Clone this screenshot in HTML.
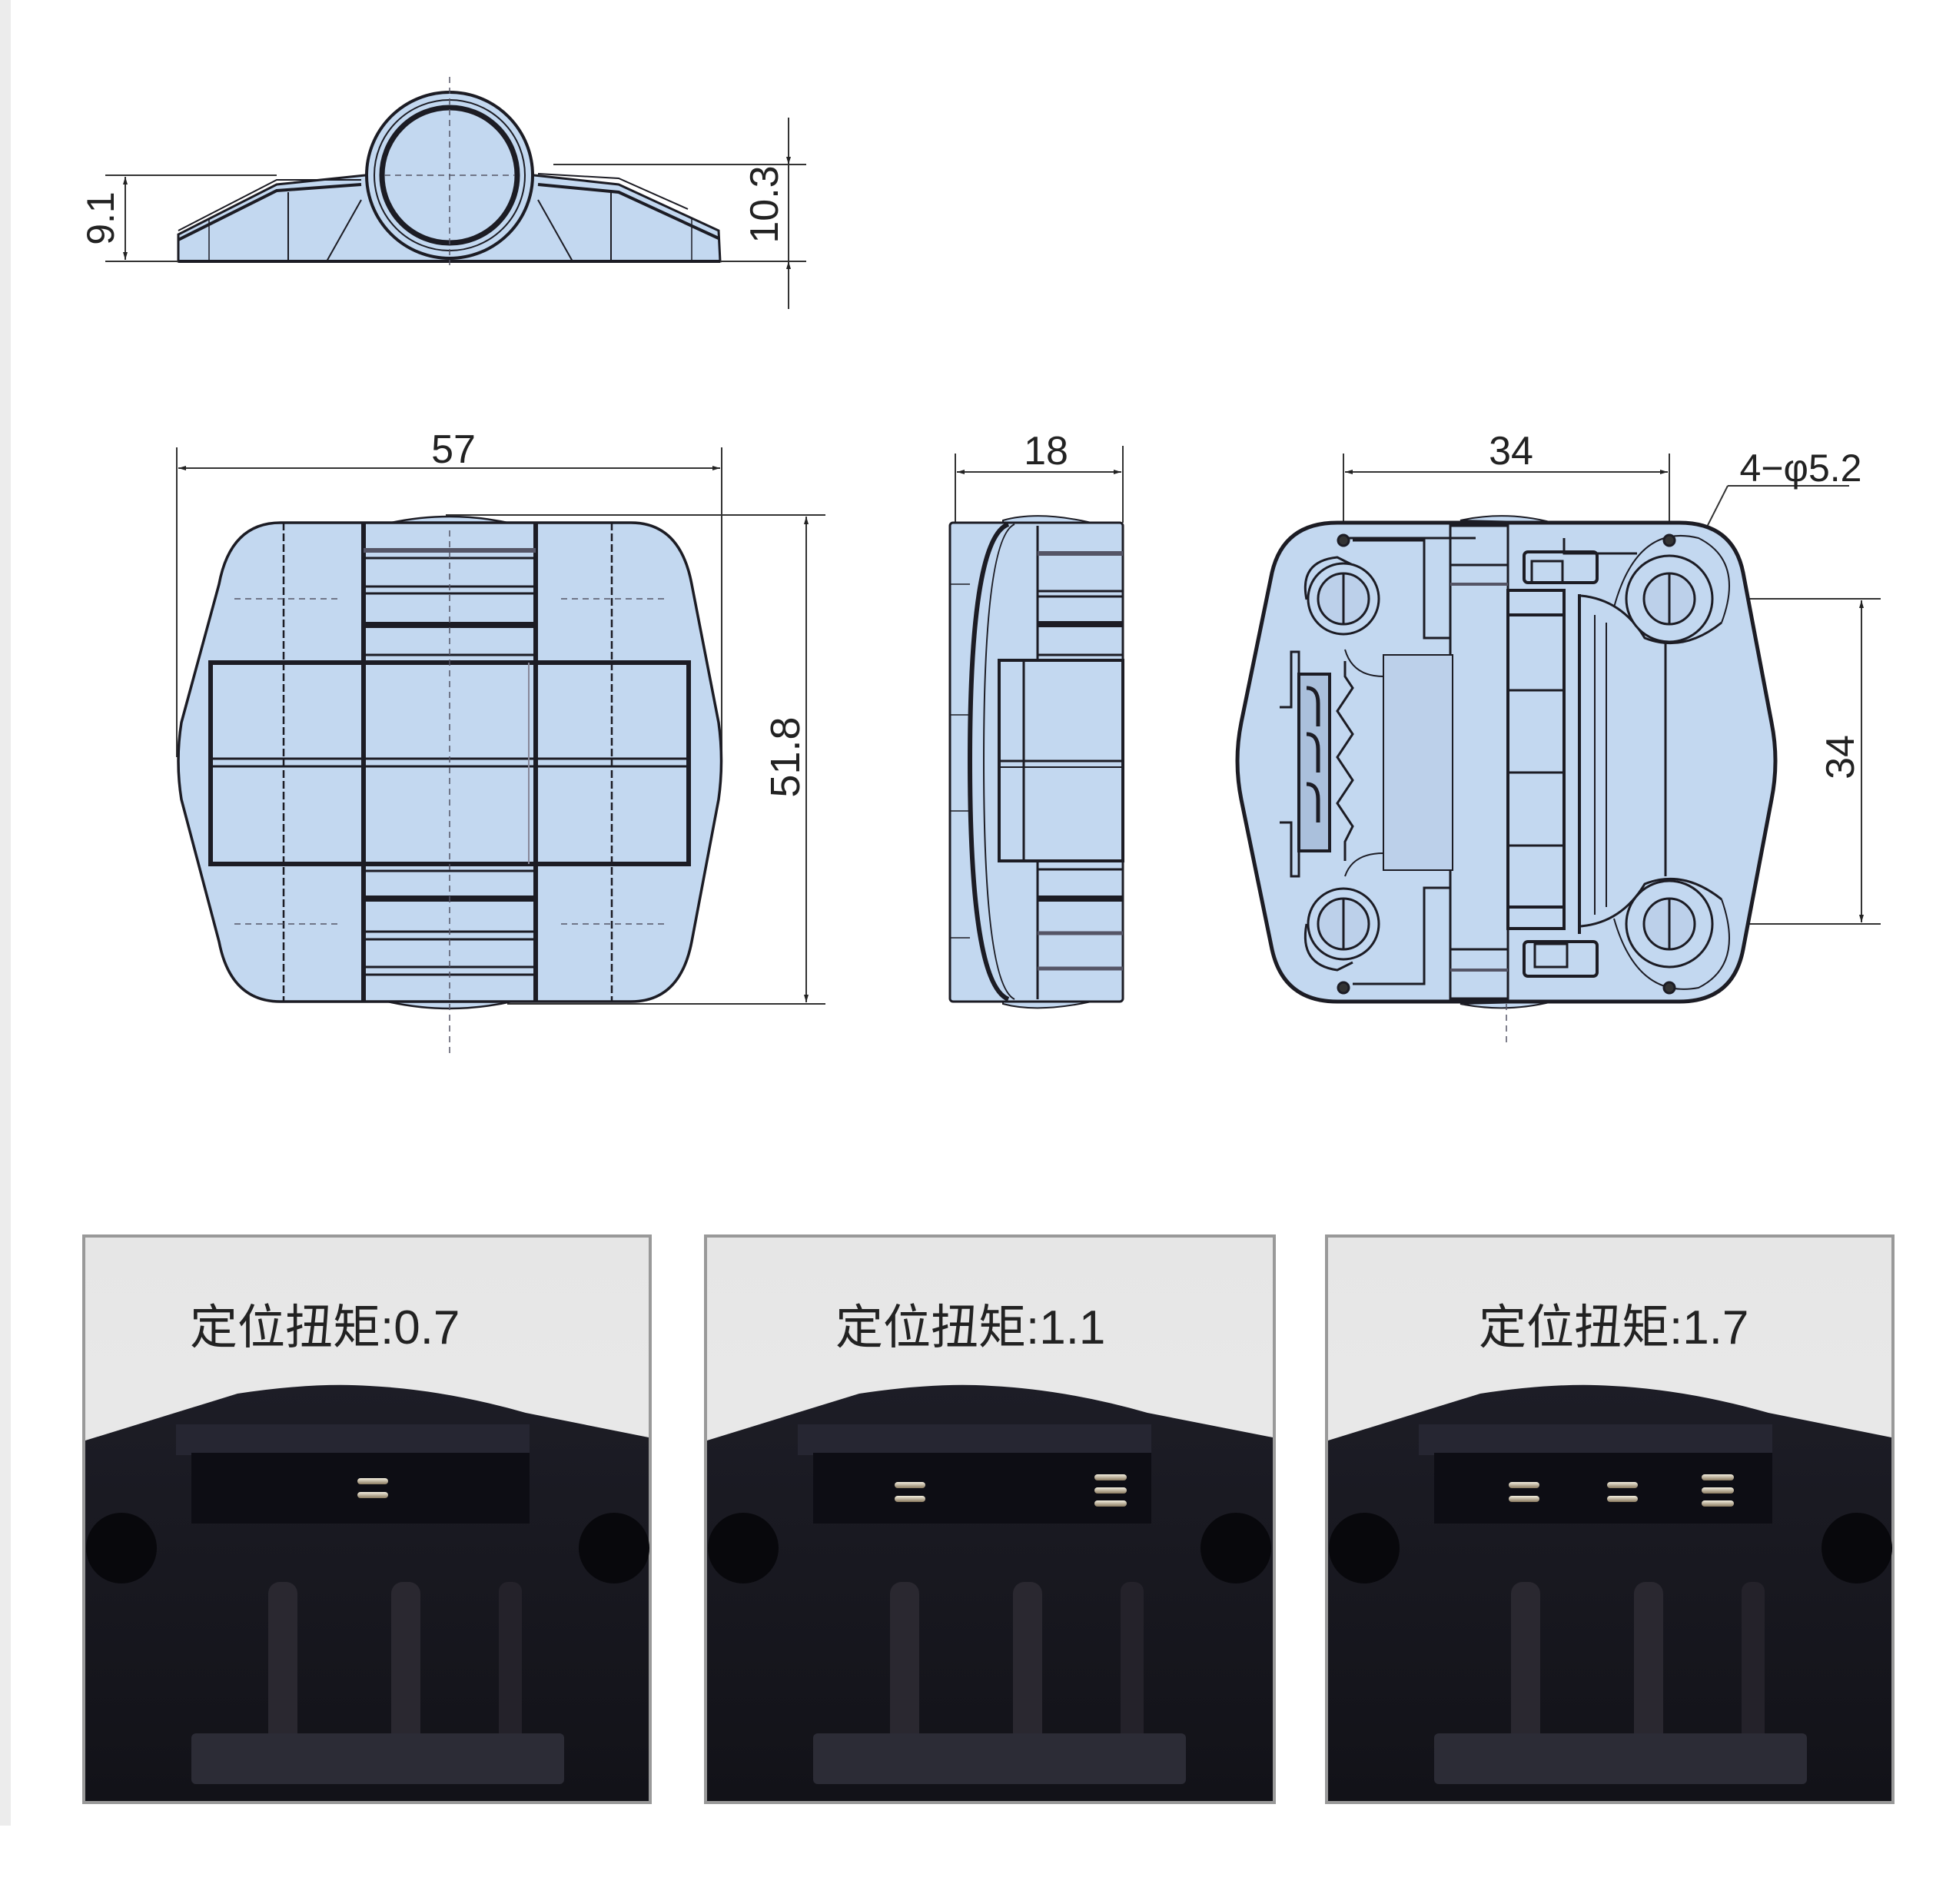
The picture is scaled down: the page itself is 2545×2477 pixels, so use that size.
<!DOCTYPE html>
<html><head><meta charset="utf-8"><style>
html,body{margin:0;padding:0;background:#fff;}
svg{display:block;}
text{font-family:"Liberation Sans","Noto Sans CJK SC",sans-serif;}
</style></head><body>
<svg width="2545" height="2477" viewBox="0 0 2545 2477" xmlns="http://www.w3.org/2000/svg">
<defs>
<marker id="ar" viewBox="0 0 10 10" refX="10" refY="5" markerWidth="14" markerHeight="10" markerUnits="userSpaceOnUse" orient="auto-start-reverse"><path d="M0,2 L10,5 L0,8 Z" fill="#222"/></marker>
<linearGradient id="bg" x1="0" y1="0" x2="0" y2="1"><stop offset="0" stop-color="#e6e6e6"/><stop offset="1" stop-color="#ededed"/></linearGradient>
<linearGradient id="dk" x1="0" y1="0" x2="0" y2="1"><stop offset="0" stop-color="#1d1d26"/><stop offset="1" stop-color="#121218"/></linearGradient>
<linearGradient id="sp" x1="0" y1="0" x2="0" y2="1"><stop offset="0" stop-color="#f4efe0"/><stop offset="1" stop-color="#8a7a60"/></linearGradient>
</defs>
<rect x="0" y="0" width="2545" height="2477" fill="#fff"/>
<rect x="0" y="0" width="14" height="2375" fill="#ececec"/>

<!-- ============ TOP VIEW ============ -->
<g stroke="#1c1c24" fill="#c3d8f0" stroke-width="3">
  <path d="M232,340 L232,305 L360,240 L475,228 L695,228 L805,240 L935,300 L937,340 Z"/>
  <path d="M232,312 L360,248 L470,240" fill="none" stroke-width="4"/>
  <path d="M700,240 L805,250 L935,310" fill="none" stroke-width="4"/>
  <path d="M232,300 L360,234 L470,234" fill="none" stroke-width="2"/>
  <path d="M700,226 L805,232 L895,272" fill="none" stroke-width="2"/>
  <line x1="375" y1="250" x2="375" y2="340" stroke-width="2"/>
  <line x1="795" y1="250" x2="795" y2="340" stroke-width="2"/>
  <line x1="272" y1="285" x2="272" y2="340" stroke-width="1.5"/>
  <line x1="900" y1="285" x2="900" y2="340" stroke-width="1.5"/>
  <line x1="425" y1="340" x2="470" y2="260" stroke-width="2"/>
  <line x1="745" y1="340" x2="700" y2="260" stroke-width="2"/>
  <circle cx="585" cy="228" r="108" stroke-width="4"/>
  <circle cx="585" cy="228" r="98" fill="none" stroke-width="2"/>
  <circle cx="585" cy="228" r="88" stroke-width="7"/>
  <line x1="232" y1="340" x2="937" y2="340" stroke-width="4"/>
</g>
<g stroke="#556" stroke-width="1.5" stroke-dasharray="8,6" fill="none">
  <line x1="585" y1="100" x2="585" y2="345"/>
  <line x1="500" y1="228" x2="670" y2="228"/>
</g>
<!-- 9.1 -->
<g stroke="#333" stroke-width="2" fill="none">
  <line x1="137" y1="228" x2="360" y2="228"/>
  <line x1="137" y1="340" x2="232" y2="340"/>
  <line x1="163" y1="230" x2="163" y2="338" marker-start="url(#ar)" marker-end="url(#ar)"/>
  <line x1="720" y1="214" x2="1049" y2="214"/>
  <line x1="937" y1="340" x2="1049" y2="340"/>
  <line x1="1026" y1="153" x2="1026" y2="214" marker-end="url(#ar)"/>
  <line x1="1026" y1="402" x2="1026" y2="340" marker-end="url(#ar)"/>
  <line x1="1026" y1="214" x2="1026" y2="340"/>
</g>
<text x="148" y="284" font-size="50" fill="#222" text-anchor="middle" transform="rotate(-90 148 284)" dy="0">9.1</text>
<text x="1012" y="266" font-size="52" fill="#222" text-anchor="middle" transform="rotate(-90 1012 266)">10.3</text>

<!-- ============ FRONT VIEW ============ -->
<g stroke="#333" stroke-width="2" fill="none">
  <line x1="230" y1="582" x2="230" y2="985"/>
  <line x1="939" y1="582" x2="939" y2="985"/>
  <line x1="232" y1="609" x2="937" y2="609" marker-start="url(#ar)" marker-end="url(#ar)"/>
  <line x1="580" y1="670" x2="1074" y2="670"/>
  <line x1="660" y1="1306" x2="1074" y2="1306"/>
  <line x1="1049" y1="672" x2="1049" y2="1304" marker-start="url(#ar)" marker-end="url(#ar)"/>
</g>
<text x="590" y="602" font-size="52" fill="#222" text-anchor="middle">57</text>
<text x="1040" y="985" font-size="54" fill="#222" text-anchor="middle" transform="rotate(-90 1040 985)">51.8</text>
<g stroke="#1c1c24" fill="#c3d8f0" stroke-width="3.5">
  <path d="M500,682 Q585,662 670,682 Z" stroke-width="2.5"/>
  <path d="M500,1302 Q585,1322 670,1302 Z" stroke-width="2.5"/>
  <path d="M365,680 L821,680 Q885,680 900,760 L935,940 Q942,990 935,1040 L900,1225 Q885,1303 821,1303 L365,1303 Q300,1303 285,1225 L236,1040 Q228,990 236,940 L285,760 Q300,680 365,680 Z"/>
  <rect x="274" y="862" width="622" height="262" fill="none" stroke-width="6"/>
  <line x1="274" y1="987" x2="896" y2="987" stroke-width="3"/>
  <line x1="274" y1="997" x2="896" y2="997" stroke-width="3"/>
  <line x1="473" y1="680" x2="473" y2="1303" stroke-width="6"/>
  <line x1="697" y1="680" x2="697" y2="1303" stroke-width="6"/>
  <line x1="369" y1="680" x2="369" y2="1303" stroke-width="2.5" stroke-dasharray="10,4"/>
  <line x1="796" y1="680" x2="796" y2="1303" stroke-width="2.5" stroke-dasharray="10,4"/>
  <line x1="688" y1="862" x2="688" y2="1124" stroke-width="2" stroke="#889"/>
  <g stroke-width="3">
    <line x1="473" y1="716" x2="697" y2="716" stroke-width="6" stroke="#556"/>
    <line x1="473" y1="726" x2="697" y2="726"/>
    <line x1="473" y1="763" x2="697" y2="763"/>
    <line x1="473" y1="772" x2="697" y2="772"/>
    <line x1="473" y1="813" x2="697" y2="813" stroke-width="8"/>
    <line x1="473" y1="852" x2="697" y2="852"/>
    <line x1="473" y1="1133" x2="697" y2="1133"/>
    <line x1="473" y1="1169" x2="697" y2="1169" stroke-width="8"/>
    <line x1="473" y1="1212" x2="697" y2="1212"/>
    <line x1="473" y1="1222" x2="697" y2="1222"/>
    <line x1="473" y1="1258" x2="697" y2="1258"/>
    <line x1="473" y1="1268" x2="697" y2="1268"/>
  </g>
</g>
<g stroke="#556" stroke-width="1.5" stroke-dasharray="8,6" fill="none">
  <line x1="585" y1="690" x2="585" y2="1370"/>
  <line x1="305" y1="779" x2="440" y2="779"/><line x1="730" y1="779" x2="865" y2="779"/>
  <line x1="305" y1="1202" x2="440" y2="1202"/><line x1="730" y1="1202" x2="865" y2="1202"/>
</g>

<!-- ============ SIDE VIEW ============ -->
<g stroke="#333" stroke-width="2" fill="none">
  <line x1="1243" y1="590" x2="1243" y2="680"/>
  <line x1="1461" y1="580" x2="1461" y2="680"/>
  <line x1="1245" y1="614" x2="1459" y2="614" marker-start="url(#ar)" marker-end="url(#ar)"/>
</g>
<text x="1361" y="604" font-size="52" fill="#222" text-anchor="middle">18</text>
<g stroke="#1c1c24" fill="#c3d8f0" stroke-width="3">
  <path d="M1305,677 Q1350,664 1420,680 L1305,680Z" stroke-width="2"/>
  <path d="M1305,1306 Q1350,1318 1420,1303 L1305,1303Z" stroke-width="2"/>
  <rect x="1236" y="680" width="225" height="623" rx="4"/>
  <path d="M1312,682 Q1262,700 1262,990 Q1262,1280 1312,1300" fill="none" stroke-width="6"/>
  <path d="M1320,682 Q1280,700 1280,990 Q1280,1280 1320,1300" fill="none" stroke-width="2"/>
  <line x1="1236" y1="760" x2="1262" y2="760" stroke-width="1.5"/>
  <line x1="1236" y1="930" x2="1262" y2="930" stroke-width="1.5"/>
  <line x1="1236" y1="1055" x2="1262" y2="1055" stroke-width="1.5"/>
  <line x1="1236" y1="1220" x2="1262" y2="1220" stroke-width="1.5"/>
  <line x1="1350" y1="684" x2="1350" y2="859"/>
  <line x1="1350" y1="1120" x2="1350" y2="1300"/>
  <rect x="1300" y="859" width="161" height="261" fill="none" stroke-width="4"/>
  <line x1="1332" y1="859" x2="1332" y2="1120"/>
  <line x1="1300" y1="990" x2="1461" y2="990" stroke-width="3"/>
  <line x1="1300" y1="998" x2="1461" y2="998" stroke-width="2"/>
  <g stroke-width="3">
    <line x1="1350" y1="720" x2="1461" y2="720" stroke-width="6" stroke="#556"/>
    <line x1="1350" y1="769" x2="1461" y2="769"/>
    <line x1="1350" y1="776" x2="1461" y2="776"/>
    <line x1="1350" y1="812" x2="1461" y2="812" stroke-width="8"/>
    <line x1="1350" y1="852" x2="1461" y2="852"/>
    <line x1="1350" y1="1131" x2="1461" y2="1131"/>
    <line x1="1350" y1="1169" x2="1461" y2="1169" stroke-width="8"/>
    <line x1="1350" y1="1214" x2="1461" y2="1214" stroke-width="5" stroke="#556"/>
    <line x1="1350" y1="1260" x2="1461" y2="1260" stroke-width="5" stroke="#556"/>
  </g>
</g>

<!-- ============ BACK VIEW ============ -->
<g stroke="#333" stroke-width="2" fill="none">
  <line x1="1748" y1="590" x2="1748" y2="700"/>
  <line x1="2172" y1="590" x2="2172" y2="700"/>
  <line x1="1750" y1="614" x2="2170" y2="614" marker-start="url(#ar)" marker-end="url(#ar)"/>
  <line x1="2248" y1="632" x2="2406" y2="632"/>
  <line x1="2248" y1="632" x2="2140" y2="845"/>
  <line x1="2273" y1="779" x2="2447" y2="779"/>
  <line x1="2273" y1="1202" x2="2447" y2="1202"/>
  <line x1="2422" y1="781" x2="2422" y2="1200" marker-start="url(#ar)" marker-end="url(#ar)"/>
</g>
<text x="1966" y="604" font-size="52" fill="#222" text-anchor="middle">34</text>
<text x="2343" y="626" font-size="50" fill="#222" text-anchor="middle">4−φ5.2</text>
<text x="2412" y="985" font-size="52" fill="#222" text-anchor="middle" transform="rotate(-90 2412 985)">34</text>
<g stroke="#1c1c24" fill="#c3d8f0" stroke-width="3">
  <path d="M1900,677 Q1960,664 2020,680 Z" stroke-width="2"/>
  <path d="M1900,1306 Q1960,1318 2020,1303 Z" stroke-width="2"/>
  <path d="M1740,680 L2185,680 Q2255,680 2268,745 L2305,940 Q2315,990 2305,1040 L2268,1235 Q2255,1303 2185,1303 L1740,1303 Q1670,1303 1655,1235 L1615,1040 Q1605,990 1615,940 L1655,745 Q1670,680 1740,680 Z" stroke-width="5"/>
  <path d="M1748,700 L1920,700" fill="none"/>
  <!-- central column -->
  <rect x="1887" y="684" width="75" height="615" fill="none" stroke-width="3"/>
  <rect x="1962" y="768" width="73" height="440" fill="none" stroke-width="4"/>
  <line x1="1887" y1="760" x2="1962" y2="760" stroke="#556" stroke-width="4"/>
  <line x1="1887" y1="735" x2="1962" y2="735"/>
  <line x1="1887" y1="1235" x2="1962" y2="1235"/>
  <line x1="1887" y1="1262" x2="1962" y2="1262" stroke="#556" stroke-width="4"/>
  <line x1="1962" y1="800" x2="2035" y2="800" stroke-width="4"/>
  <line x1="1962" y1="898" x2="2035" y2="898" stroke-width="3"/>
  <line x1="1962" y1="1005" x2="2035" y2="1005" stroke-width="3"/>
  <line x1="1962" y1="1100" x2="2035" y2="1100" stroke-width="3"/>
  <line x1="1962" y1="1180" x2="2035" y2="1180" stroke-width="4"/>
  <!-- left region -->
  <path d="M1760,703 L1853,703 L1853,830 L1887,830" fill="none"/>
  <path d="M1760,1280 L1853,1280 L1853,1155 L1887,1155" fill="none"/>
  <path d="M1750,845 Q1760,880 1800,880 L1853,880 L1853,1110 L1800,1110 Q1760,1110 1750,1140" fill="none" stroke-width="2"/>
  <rect x="1800" y="852" width="90" height="280" fill="#bcd0ea" stroke-width="2"/>
  <path d="M1750,860 L1750,880 L1760,895 L1740,925 L1760,955 L1740,985 L1760,1015 L1740,1045 L1760,1075 L1750,1095 L1750,1120" fill="none" stroke-width="3"/>
  <path d="M1665,920 L1680,920 L1680,848 L1690,848 L1690,1140 L1680,1140 L1680,1070 L1665,1070" fill="#c3d8f0"/>
  <rect x="1690" y="877" width="40" height="230" fill="#aac0dc" stroke-width="4"/>
  <path d="M1700,895 q15,0 15,20 v30 M1700,955 q15,0 15,20 v30 M1700,1020 q15,0 15,20 v30" fill="none" stroke-width="5"/>
  <!-- right region -->
  <path d="M2035,700 L2035,720 L2130,720" fill="none"/>
  <rect x="1983" y="718" width="95" height="40" rx="5" fill="none" stroke-width="4"/>
  <rect x="1993" y="730" width="40" height="28" fill="none" stroke-width="3"/>
  <rect x="1983" y="1225" width="95" height="45" rx="5" fill="none" stroke-width="4"/>
  <rect x="1997" y="1228" width="42" height="30" fill="none" stroke-width="3"/>
  <path d="M2055,773 L2055,1215" fill="none" stroke-width="4"/>
  <path d="M2075,800 L2075,1190 M2090,810 L2090,1180" fill="none" stroke-width="2"/>
  <line x1="2167" y1="815" x2="2167" y2="1140" stroke-width="3"/>
  <path d="M2057,775 Q2110,780 2140,830 Q2190,850 2240,810" fill="none" stroke-width="3"/>
  <path d="M2057,1205 Q2110,1200 2140,1150 Q2190,1130 2240,1170" fill="none" stroke-width="3"/>
  <path d="M2100,790 Q2130,680 2210,700 Q2270,730 2240,810" fill="none" stroke-width="2"/>
  <path d="M2100,1195 Q2130,1300 2210,1285 Q2270,1255 2240,1170" fill="none" stroke-width="2"/>
  <!-- holes -->
  <g stroke-width="3">
    <path d="M1700,780 Q1690,730 1740,725 L1760,735" fill="none"/>
    <path d="M1700,1202 Q1690,1255 1740,1262 L1760,1252" fill="none"/>
    <circle cx="1748" cy="779" r="46" fill="#c3d8f0"/>
    <circle cx="1748" cy="779" r="33" fill="#bcd0ea"/>
    <line x1="1748" y1="746" x2="1748" y2="812"/>
    <circle cx="1748" cy="1202" r="46" fill="#c3d8f0"/>
    <circle cx="1748" cy="1202" r="33" fill="#bcd0ea"/>
    <line x1="1748" y1="1169" x2="1748" y2="1235"/>
    <circle cx="2172" cy="779" r="56" fill="#c3d8f0"/>
    <circle cx="2172" cy="779" r="33" fill="#bcd0ea"/>
    <line x1="2172" y1="746" x2="2172" y2="812"/>
    <circle cx="2172" cy="1202" r="56" fill="#c3d8f0"/>
    <circle cx="2172" cy="1202" r="33" fill="#bcd0ea"/>
    <line x1="2172" y1="1169" x2="2172" y2="1235"/>
  </g>
  <circle cx="1748" cy="703" r="7" fill="#333"/>
  <circle cx="2172" cy="703" r="7" fill="#333"/>
  <circle cx="1748" cy="1285" r="7" fill="#333"/>
  <circle cx="2172" cy="1285" r="7" fill="#333"/>
</g>
<line x1="1960" y1="1306" x2="1960" y2="1360" stroke="#556" stroke-width="1.5" stroke-dasharray="8,6"/>

<!-- ============ PHOTOS ============ -->
<g id="p1" transform="translate(109,1608)">
  <rect x="0" y="0" width="737" height="737" fill="url(#bg)" stroke="#999" stroke-width="4"/>
  <path d="M2,266 L200,205 Q300,190 372,195 Q470,200 575,230 L735,262 L735,735 L2,735 Z" fill="url(#dk)"/>
  <rect x="120" y="245" width="460" height="40" fill="#262632"/>
  <rect x="140" y="282" width="440" height="92" fill="#0d0d14"/>
  <circle cx="49" cy="406" r="46" fill="#08080c"/>
  <circle cx="690" cy="406" r="46" fill="#08080c"/>
  <rect x="240" y="450" width="38" height="220" rx="15" fill="#2a2830"/>
  <rect x="400" y="450" width="38" height="220" rx="15" fill="#2a2830"/>
  <rect x="540" y="450" width="30" height="220" rx="12" fill="#24222a"/>
  <rect x="140" y="647" width="485" height="66" rx="6" fill="#2c2c36"/>
  <g fill="url(#sp)">
    <rect x="356" y="315" width="40" height="8" rx="4"/><rect x="356" y="333" width="40" height="8" rx="4"/>
  </g>
  <text x="138" y="140" font-size="62" fill="#222">定位扭矩:0.7</text>
</g>
<g transform="translate(918,1608)">
  <rect x="0" y="0" width="740" height="737" fill="url(#bg)" stroke="#999" stroke-width="4"/>
  <path d="M2,266 L200,205 Q300,190 372,195 Q470,200 575,230 L738,262 L738,735 L2,735 Z" fill="url(#dk)"/>
  <rect x="120" y="245" width="460" height="40" fill="#262632"/>
  <rect x="140" y="282" width="440" height="92" fill="#0d0d14"/>
  <circle cx="49" cy="406" r="46" fill="#08080c"/>
  <circle cx="690" cy="406" r="46" fill="#08080c"/>
  <rect x="240" y="450" width="38" height="220" rx="15" fill="#2a2830"/>
  <rect x="400" y="450" width="38" height="220" rx="15" fill="#2a2830"/>
  <rect x="540" y="450" width="30" height="220" rx="12" fill="#24222a"/>
  <rect x="140" y="647" width="485" height="66" rx="6" fill="#2c2c36"/>
  <g fill="url(#sp)">
    <rect x="246" y="320" width="40" height="8" rx="4"/><rect x="246" y="338" width="40" height="8" rx="4"/>
    <rect x="506" y="310" width="42" height="8" rx="4"/><rect x="506" y="327" width="42" height="8" rx="4"/><rect x="506" y="344" width="42" height="8" rx="4"/>
  </g>
  <text x="169" y="140" font-size="62" fill="#222">定位扭矩:1.1</text>
</g>
<g transform="translate(1726,1608)">
  <rect x="0" y="0" width="737" height="737" fill="url(#bg)" stroke="#999" stroke-width="4"/>
  <path d="M2,266 L200,205 Q300,190 372,195 Q470,200 575,230 L735,262 L735,735 L2,735 Z" fill="url(#dk)"/>
  <rect x="120" y="245" width="460" height="40" fill="#262632"/>
  <rect x="140" y="282" width="440" height="92" fill="#0d0d14"/>
  <circle cx="49" cy="406" r="46" fill="#08080c"/>
  <circle cx="690" cy="406" r="46" fill="#08080c"/>
  <rect x="240" y="450" width="38" height="220" rx="15" fill="#2a2830"/>
  <rect x="400" y="450" width="38" height="220" rx="15" fill="#2a2830"/>
  <rect x="540" y="450" width="30" height="220" rx="12" fill="#24222a"/>
  <rect x="140" y="647" width="485" height="66" rx="6" fill="#2c2c36"/>
  <g fill="url(#sp)">
    <rect x="237" y="320" width="40" height="8" rx="4"/><rect x="237" y="338" width="40" height="8" rx="4"/>
    <rect x="365" y="320" width="40" height="8" rx="4"/><rect x="365" y="338" width="40" height="8" rx="4"/>
    <rect x="488" y="310" width="42" height="8" rx="4"/><rect x="488" y="327" width="42" height="8" rx="4"/><rect x="488" y="344" width="42" height="8" rx="4"/>
  </g>
  <text x="198" y="140" font-size="62" fill="#222">定位扭矩:1.7</text>
</g>
</svg>
</body></html>
